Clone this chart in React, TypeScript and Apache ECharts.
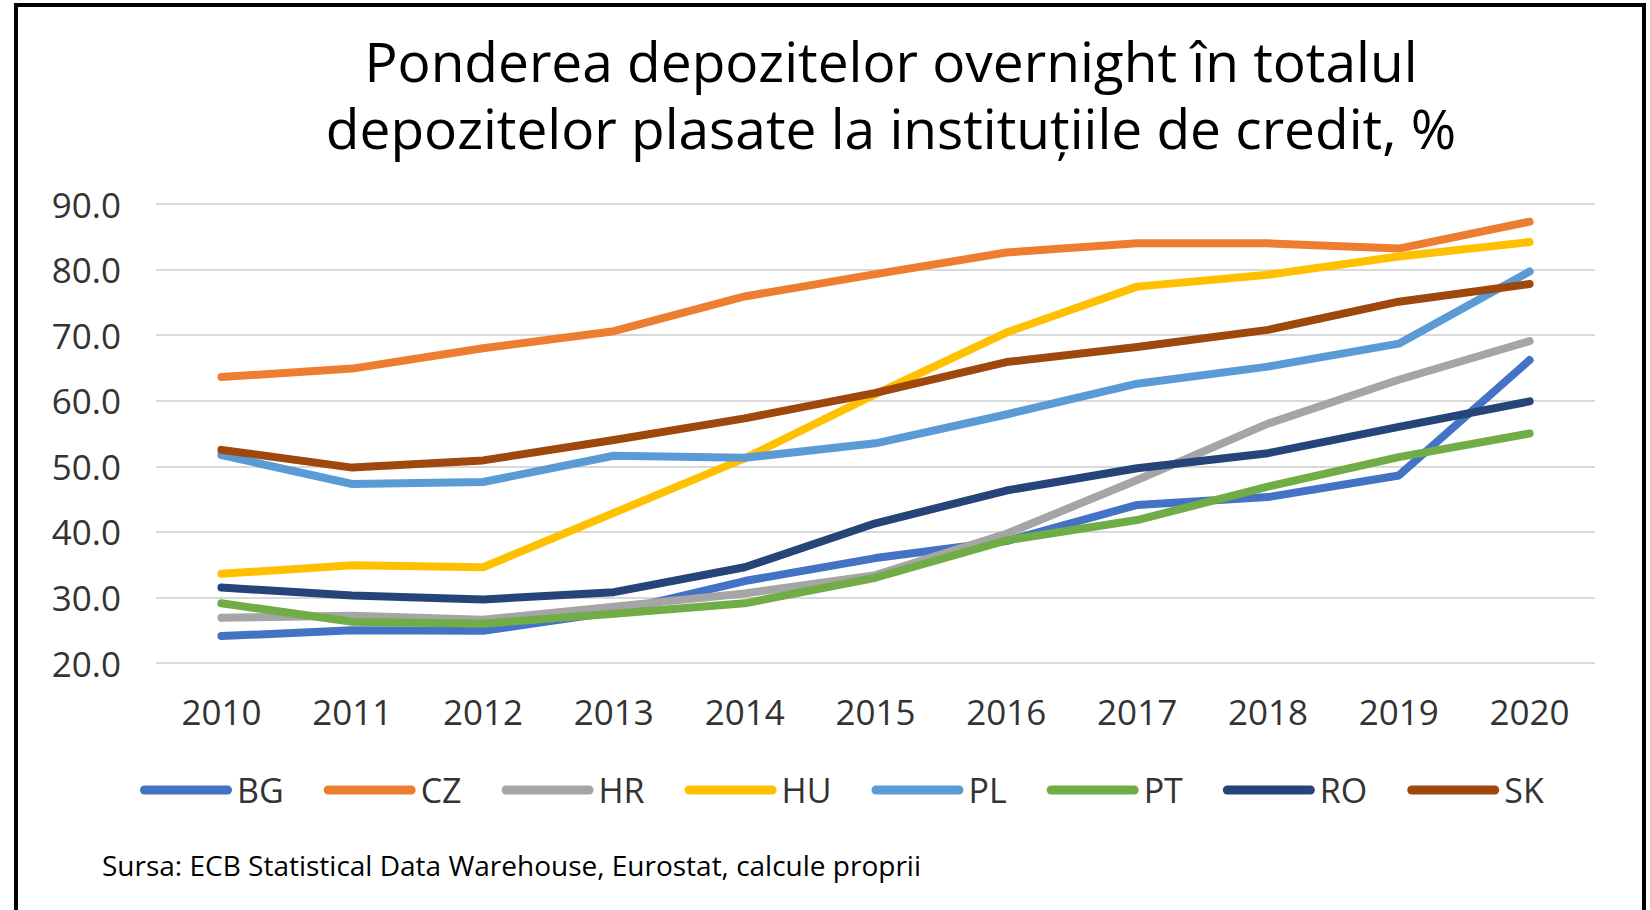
import React, { useEffect, useRef } from "react";
import * as echarts from "echarts";

const years = ["2010", "2011", "2012", "2013", "2014", "2015", "2016", "2017", "2018", "2019", "2020"];
const BG = [24.1, 25.0, 24.9, 27.8, 32.5, 36.0, 38.6, 44.1, 45.3, 48.6, 66.2];
const CZ = [63.6, 64.9, 68.0, 70.6, 75.9, 79.3, 82.6, 84.0, 84.0, 83.2, 87.3];
const HR = [26.9, 27.2, 26.6, 28.6, 30.6, 33.4, 39.7, 47.9, 56.5, 63.2, 69.1];
const HU = [33.6, 34.9, 34.6, 42.9, 51.2, 61.0, 70.4, 77.4, 79.2, 82.0, 84.2];
const PL = [51.7, 47.3, 47.6, 51.6, 51.3, 53.5, 57.9, 62.6, 65.2, 68.7, 79.7];
const PT = [29.1, 26.3, 26.0, 27.5, 29.1, 33.0, 38.7, 41.8, 46.9, 51.4, 55.0];
const RO = [31.5, 30.3, 29.7, 30.8, 34.6, 41.3, 46.3, 49.7, 52.0, 56.0, 59.9];
const SK = [52.5, 49.8, 50.9, 54.0, 57.3, 61.2, 65.9, 68.2, 70.8, 75.1, 77.8];

const seriesNames = ["BG", "CZ", "HR", "HU", "PL", "PT", "RO", "SK"];
const seriesData = [BG, CZ, HR, HU, PL, PT, RO, SK];
const colors = ["#4472C4", "#ED7D31", "#A5A5A5", "#FFC000", "#5B9BD5", "#70AD47", "#264478", "#9E480E"];

const titleLines = [
  "Ponderea depozitelor overnight în totalul",
  "depozitelor plasate la instituțiile de credit, %",
];
const sourceText = "Sursa: ECB Statistical Data Warehouse, Eurostat, calcule proprii";

const FONT = "'Open Sans', 'Noto Sans', sans-serif";

export default function App() {
  const ref = useRef<HTMLDivElement>(null);
  useEffect(() => {
    if (!ref.current) return;
    const chart = echarts.init(ref.current, null, { renderer: "svg" });
    chart.setOption({
      animation: false,
      backgroundColor: "#ffffff",
      color: colors,
      grid: { left: 156, right: 55, top: 204, bottom: 247, containLabel: false },
      xAxis: {
        type: "category",
        data: years,
        boundaryGap: true,
        axisLine: { show: false },
        axisTick: { show: false },
        axisLabel: { color: "#333333", fontSize: 35, fontFamily: FONT, margin: 31 },
      },
      yAxis: {
        type: "value",
        min: 20,
        max: 90,
        interval: 10,
        axisLine: { show: false },
        axisTick: { show: false },
        axisLabel: {
          color: "#333333",
          fontSize: 35,
          fontFamily: FONT,
          margin: 35,
          formatter: (v: number) => v.toFixed(1),
        },
        splitLine: { lineStyle: { color: "#d9d9d9", width: 2 } },
      },
      legend: {
        left: 135,
        top: 768,
        itemWidth: 92,
        itemHeight: 9,
        itemGap: 40,
        icon: "path://M4.5,0 H87.5 A4.5,4.5 0 0 1 87.5,9 H4.5 A4.5,4.5 0 0 1 4.5,0 Z",
        itemStyle: { borderWidth: 0 },
        textStyle: { color: "#333333", fontSize: 34, fontFamily: FONT },
        data: seriesNames,
      },
      series: seriesNames.map((name, i) => ({
        name,
        type: "line",
        data: seriesData[i],
        showSymbol: false,
        symbol: "none",
        smooth: false,
        lineStyle: { width: 8, color: colors[i], cap: "round", join: "round" },
        itemStyle: { color: colors[i] },
      })),
      graphic: [
        {
          type: "rect",
          shape: { x: 16, y: 5, width: 1628, height: 1000 },
          style: { fill: "none", stroke: "#000000", lineWidth: 4 },
          silent: true,
        },
        {
          type: "text",
          x: 891,
          y: 93.5,
          style: {
            text: titleLines.join("\n"),
            font: `55px ${FONT}`,
            lineHeight: 67,
            fill: "#000000",
            textAlign: "center",
            textVerticalAlign: "middle",
          },
        },
        {
          type: "text",
          x: 102,
          y: 865,
          style: {
            text: sourceText,
            font: `28px ${FONT}`,
            fill: "#000000",
            textAlign: "left",
            textVerticalAlign: "middle",
          },
        },
      ],
    });
    return () => chart.dispose();
  }, []);
  return (
    <div
      ref={ref}
      style={{ position: "absolute", left: 0, top: 0, width: 1650, height: 910 }}
    />
  );
}
